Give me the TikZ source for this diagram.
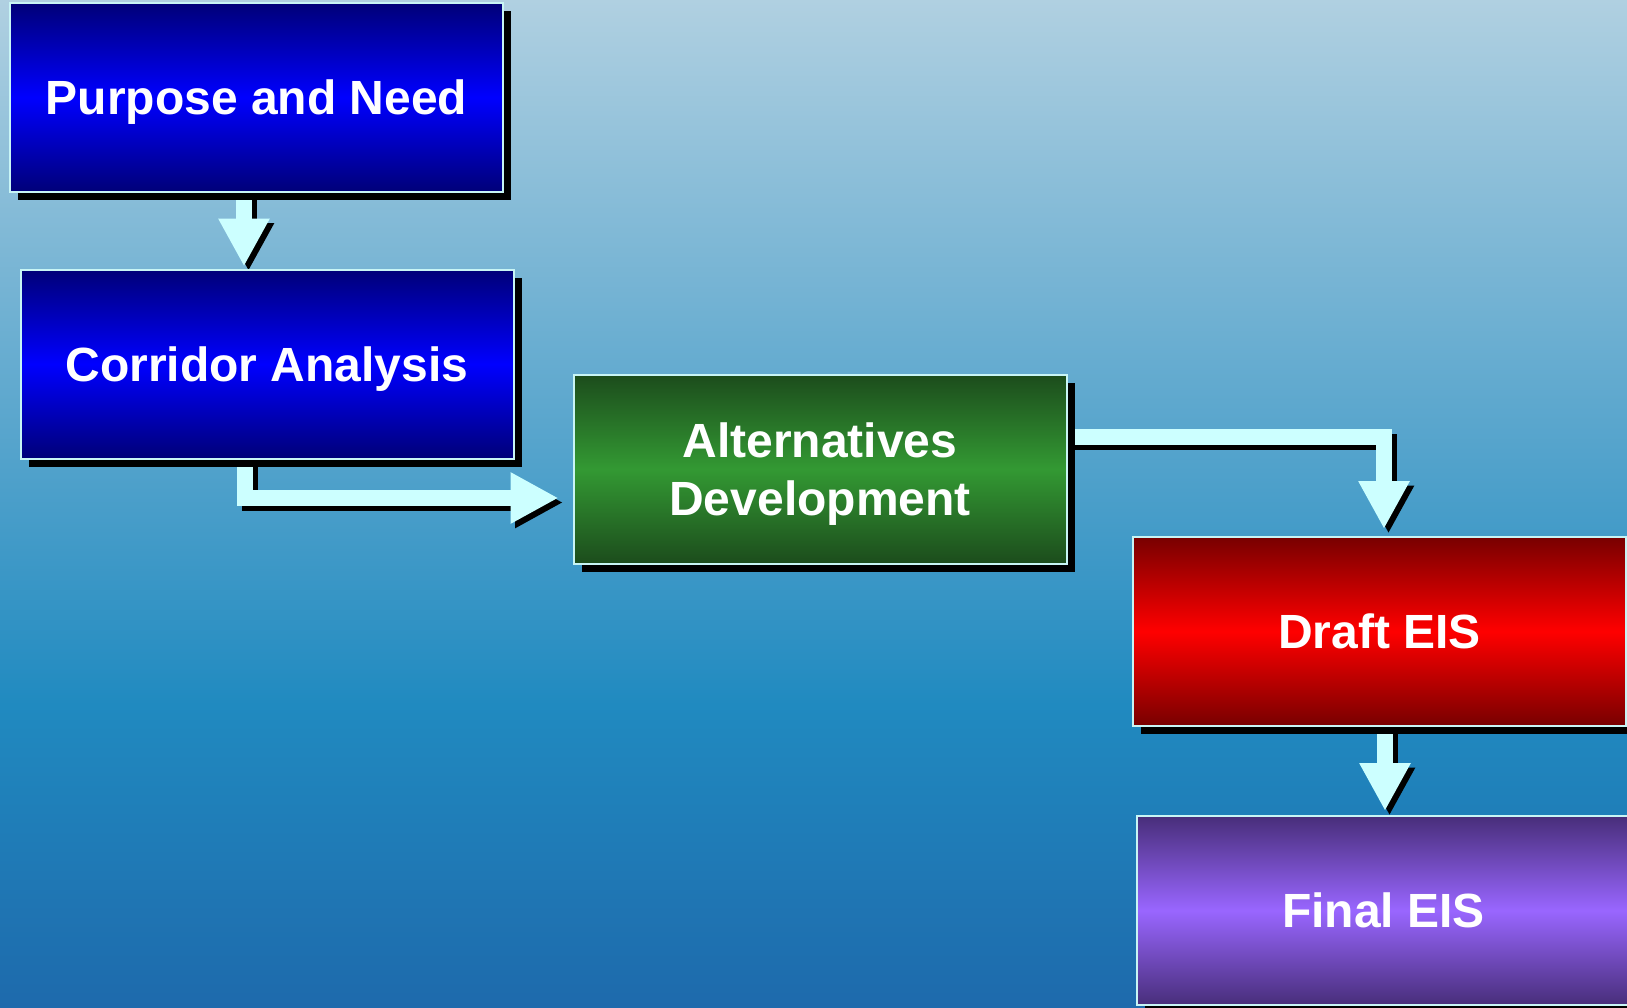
\documentclass[tikz,border=0pt]{standalone}
\usepackage{fontspec}
\setmainfont{Liberation Sans}
\usetikzlibrary{arrows.meta,shadows}
\definecolor{bgtop}{RGB}{176,208,225}
\definecolor{bgmid}{RGB}{32,138,192}
\definecolor{bgbot}{RGB}{30,106,172}
\definecolor{arrowcyan}{RGB}{204,255,255}
\definecolor{edgecyan}{RGB}{200,245,245}
\definecolor{bluedark}{RGB}{0,0,120}
\definecolor{bluelight}{RGB}{0,0,255}
\definecolor{greendark}{RGB}{28,76,28}
\definecolor{greenlight}{RGB}{51,153,51}
\definecolor{reddark}{RGB}{120,0,0}
\definecolor{redlight}{RGB}{255,0,0}
\definecolor{purpledark}{RGB}{72,46,122}
\definecolor{purplelight}{RGB}{153,102,255}
\pgfdeclareverticalshading{bgshade}{100bp}{color(0bp)=(bgbot); color(25bp)=(bgbot); color(40bp)=(bgmid); color(75bp)=(bgtop); color(100bp)=(bgtop)}
\pgfdeclarelayer{back}
\pgfdeclarelayer{arrowlayer}
\pgfsetlayers{back,arrowlayer,main}
\tikzset{
  stepbox/.style={draw=edgecyan, line width=1pt, minimum width=246.5pt, minimum height=94.5pt,
    inner sep=0pt, text=white, align=center, text height=17.2pt, text depth=0pt,
    font=\fontsize{24pt}{29pt}\selectfont\bfseries,
    general shadow={fill=black, shadow xshift=4pt, shadow yshift=-4pt}},
  twoline/.style={text height=46.2pt, text depth=0pt},
  bluebox/.style={stepbox, top color=bluedark, bottom color=bluedark, middle color=bluelight},
  greenbox/.style={stepbox, top color=greendark, bottom color=greendark, middle color=greenlight},
  redbox/.style={stepbox, top color=reddark, bottom color=reddark, middle color=redlight},
  purplebox/.style={stepbox, top color=purpledark, bottom color=purpledark, middle color=purplelight},
  flowbase/.style={line width=8pt, -{Triangle[length=24pt,width=24pt]}},
  flowarrow/.style={flowbase, draw=arrowcyan, arrowcyan},
  flowshadow/.style={flowbase, draw=black, black, transform canvas={xshift=2.25pt,yshift=-2.25pt}}
}
\begin{document}
\begin{tikzpicture}[x=0.5pt,y=-0.5pt]
\useasboundingbox (0,0) rectangle (1627,1007);
\begin{pgfonlayer}{back}
  \path[shading=bgshade] (0,0) rectangle (1627,1007);
\end{pgfonlayer}
\node[bluebox] (pn) at (256.5,97.5) {Purpose and Need};
\node[bluebox] (co) at (267,364) {Corridor Analysis};
\node[greenbox, twoline] (al) at (820,469) {Alternatives\\Development};
\node[redbox] (dr) at (1379.5,631.5) {Draft EIS};
\node[purplebox] (fi) at (1383.5,910.5) {Final EIS};
\begin{pgfonlayer}{arrowlayer}
  \foreach \st in {flowshadow,flowarrow}{
    \draw[\st, shorten >=1pt] ([xshift=-6.25pt]pn.south) -- ([xshift=-6.25pt]pn.south |- co.north);
    \draw[\st, shorten >=7pt] ([xshift=-11pt]co.south) |- ([yshift=-14.5pt]al.west);
    \draw[\st, shorten >=3.5pt] ([yshift=16pt]al.east) -| ([xshift=2.25pt]dr.north);
    \draw[\st, shorten >=2pt] ([xshift=2.75pt]dr.south) -- ([xshift=2.75pt]dr.south |- fi.north);
  }
\end{pgfonlayer}
\end{tikzpicture}
\end{document}
